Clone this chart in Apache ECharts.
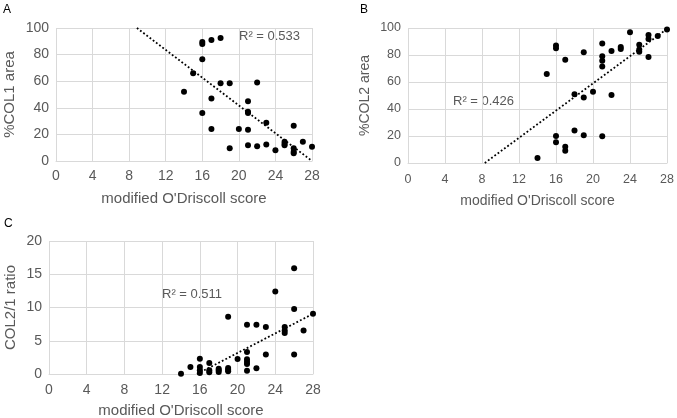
<!DOCTYPE html>
<html><head><meta charset="utf-8">
<script src="https://cdn.jsdelivr.net/npm/echarts@6/dist/echarts.min.js"></script>
<style>html,body{margin:0;padding:0;background:#fff}#c{width:677px;height:418px}</style>
</head><body><div id="c"></div>
<script>
// Panel A: modified O'Driscoll score vs %COL1 area
const scoreA = [14,15,16,16,16,16,17,17,17,18,18,19,19,20,21,21,21,21,21,22,22,23,23,24,25,25,25,26,26,26,26,27,28];
const col1A  = [52,66,89.5,88,76.5,36,91,47,24,92.5,58.5,58.5,9.5,24,45,37,36,23.5,11.75,59,11,28.75,12.5,8,14.5,13,11.75,26.5,9.5,7,5.75,14.5,10.75];
const trendA = [[8.85,100],[28,0]];
// Panel B: score vs %COL2 area
const scoreB = [14,15,16,16,16,16,17,17,17,18,18,19,19,19,20,21,21,21,21,21,22,22,23,23,24,25,25,25,26,26,26,27,28];
const col2B  = [3.7,66,87,85,20,15.3,76.5,12,9,51,24,82,48.6,20.5,52.8,88.6,79,75.8,71.4,19.8,83,50.4,86,84.4,96.8,87.6,84,82.5,94.8,91.9,78.5,94,98.8];
const trendB = [[8.3,0],[28,99.3]];
// Panel C: score vs COL2/1 ratio
const scoreC = [14,15,16,16,16,16,17,17,17,18,18,18,19,19,19,19,20,21,21,21,21,21,21,22,22,23,23,24,25,25,25,26,26,26,27,28];
const ratioC = [0.05,1.05,2.3,1.05,0.55,0.15,1.65,0.55,0.25,0.8,0.55,0.3,8.6,0.9,0.65,0.4,2.25,7.4,3.3,2.2,1.85,1.5,0.5,7.4,0.85,7.07,2.95,12.4,7.07,6.55,6.15,15.9,9.77,2.95,6.55,9.05];
const trendC = [[15.7,0],[28,9.05]];
const xTicks = {min:0, max:28, interval:4};
const r2Labels = ['R² = 0.533','R² = 0.426','R² = 0.511'];
const panelLetters = ['A','B','C'];
const yNames = ['%COL1 area','%COL2 area','COL2/1 ratio'];
const xName = "modified O'Driscoll score";

const FONT = 'Liberation Sans, Arial, sans-serif';
const GRAY = '#595959', GRID = '#d9d9d9';
const zip = (a,b) => a.map((v,i)=>[v,b[i]]);

const grids = [
  {left:56, top:28, width:256, height:133, outerBoundsMode:'none', containLabel:false},
  {left:408, top:28, width:259, height:135, outerBoundsMode:'none', containLabel:false},
  {left:49, top:241, width:264, height:133, outerBoundsMode:'none', containLabel:false}
];
const cfg = [
  {ymin:0,ymax:100,yint:20,ygap:39,xgap:30,tick:14,title:15,xm:8},
  {ymin:0,ymax:100,yint:20,ygap:36,xgap:31,tick:12.5,title:14,xm:10},
  {ymin:0,ymax:20,yint:5,ygap:31,xgap:29,tick:14,title:15,xm:9}
];

const xAxis = grids.map((g,i)=>({
  type:'value', gridIndex:i, min:xTicks.min, max:xTicks.max, interval:xTicks.interval,
  name:xName, nameLocation:'middle', nameGap:cfg[i].xgap,
  nameTextStyle:{color:GRAY,fontFamily:FONT,fontSize:cfg[i].title},
  axisLine:{show:true,lineStyle:{color:GRID,width:1}}, axisTick:{show:false},
  axisLabel:{color:GRAY,fontFamily:FONT,fontSize:cfg[i].tick,margin:cfg[i].xm},
  splitLine:{show:true,lineStyle:{color:GRID,width:1}}
}));
const yAxis = grids.map((g,i)=>({
  type:'value', gridIndex:i, min:cfg[i].ymin, max:cfg[i].ymax, interval:cfg[i].yint,
  name:yNames[i], nameLocation:'middle', nameGap:cfg[i].ygap, nameRotate:90,
  nameTextStyle:{color:GRAY,fontFamily:FONT,fontSize:cfg[i].title},
  axisLine:{show:false}, axisTick:{show:false},
  axisLabel:{color:GRAY,fontFamily:FONT,fontSize:cfg[i].tick,margin:7},
  splitLine:{show:true,lineStyle:{color:GRID,width:1}}
}));
const pts = [zip(scoreA,col1A), zip(scoreB,col2B), zip(scoreC,ratioC)];
const trends = [trendA, trendB, trendC];
const series = [];
pts.forEach((d,i)=>{
  series.push({type:'line', xAxisIndex:i, yAxisIndex:i, data:trends[i], symbol:'none', silent:true,
    lineStyle:{color:'#000', width:1.8, type:[1.8,2.2]}, z:2});
  series.push({type:'scatter', xAxisIndex:i, yAxisIndex:i, data:d, symbolSize:6,
    itemStyle:{color:'#000', opacity:1}, z:3});
});
const r2Pos = [[239,38],[453,103],[162,296]];
const letterPos = [[3,4],[360,4],[4,218]];
const graphic = [];
r2Labels.forEach((t,i)=>graphic.push({type:'text', left:r2Pos[i][0], top:r2Pos[i][1]-8,
  style:{text:t, fill:GRAY, font:'13px '+FONT}}));
panelLetters.forEach((t,i)=>graphic.push({type:'text', left:letterPos[i][0], top:letterPos[i][1],
  style:{text:t, fill:'#000', font:'12px '+FONT}}));

const chart = echarts.init(document.getElementById('c'), null, {renderer:'canvas'});
chart.setOption({animation:false, backgroundColor:'#fff', grid:grids, xAxis, yAxis, series, graphic});
</script></body></html>
